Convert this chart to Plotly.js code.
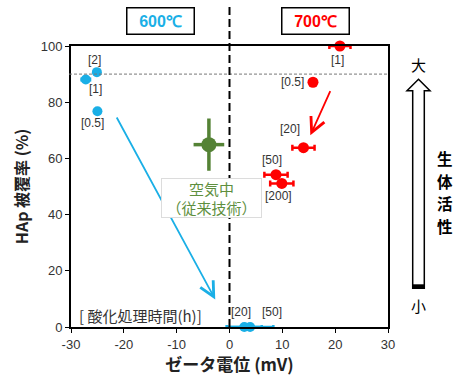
<!DOCTYPE html>
<html><head><meta charset="utf-8">
<script src="https://cdn.plot.ly/plotly-3.0.1.min.js"></script>
<style>html,body{margin:0;padding:0;background:#fff}#c{width:456px;height:376px}</style>
</head><body><div id="c"></div>
<script>
// ---- data ----
const xTickVals = [-30,-20,-10,0,10,20,30];
const xTickText = ['-30','-20','-10','0','10','20','30'];
const yTickVals = [0,20,40,60,80,100];
const yTickText = ['0','20','40','60','80','100'];

const t600Labels = ['[2]','[1]','[0.5]','[20]','[50]'];
const t600X = [-25.1,-27.2,-25.0,2.8,3.9];
const t600Y = [90.7,88.1,76.8,0,0];
const t600Xerr = [0.4,0.8,0,3.3,4.4];

const t700Labels = ['[1]','[0.5]','[20]','[50]','[200]'];
const t700X = [20.9,15.8,14.0,8.8,9.9];
const t700Y = [100,87.1,63.8,54.2,51.1];
const t700Xerr = [2.0,0,2.1,2.2,2.2];

const airX = [-3.9];
const airY = [64.9];
const airXerr = [2.9];
const airYerr = [9.3];

const refLineY = 90;       // 灰色破線
const arrow600 = {from:[-21.5,75.1], to:[-2.7,9.8]};
const arrow700 = {from:[19.2,84.5], to:[15.3,68.2]};
const bioChars = ['生','体','活','性'];

// ---- styles ----
const BLUE = '#1aafe6', RED = '#ff0000', GREEN = '#548235', GTEXT = '#5e8f3e';
const NUM = 'Liberation Sans, Arial, sans-serif';
const JP = 'Noto Sans CJK JP, Liberation Sans, sans-serif';
// label pixel offsets (x right, y up)
const shift600 = [[-2,12],[10,-10],[-5,-12],[-3,15],[22,15]];
const shift700 = [[-2,-14],[-20,0],[-13,19],[-4,15],[-3,-13]];

const L = 71, R = 68, T = 46, B = 49, W = 456, H = 376;
const pw = W - L - R, ph = H - T - B;
const px = v => (v - L) / pw;           // pixel -> paper x
const py = v => (H - B - v) / ph;       // pixel -> paper y

const traces = [
  {x:t600X, y:t600Y, type:'scatter', mode:'markers', cliponaxis:false,
   marker:{color:BLUE, size:10},
   error_x:{type:'data', array:t600Xerr, visible:true, color:BLUE, thickness:2.5, width:2}},
  {x:t700X, y:t700Y, type:'scatter', mode:'markers', cliponaxis:false,
   marker:{color:RED, size:11},
   error_x:{type:'data', array:t700Xerr, visible:true, color:RED, thickness:2.5, width:3}},
  {x:airX, y:airY, type:'scatter', mode:'markers', cliponaxis:false,
   marker:{color:GREEN, size:15},
   error_x:{type:'data', array:airXerr, visible:true, color:GREEN, thickness:3.5, width:0},
   error_y:{type:'data', array:airYerr, visible:true, color:GREEN, thickness:3.5, width:0}}
];

const ann = [];
t600Labels.forEach((t,i)=>ann.push({x:t600X[i], y:t600Y[i], text:t, showarrow:false,
  xshift:shift600[i][0], yshift:shift600[i][1], font:{family:NUM, size:12, color:'#333'}}));
t700Labels.forEach((t,i)=>ann.push({x:t700X[i], y:t700Y[i], text:t, showarrow:false,
  xshift:shift700[i][0], yshift:shift700[i][1], font:{family:NUM, size:12, color:'#333'}}));

ann.push({x:arrow600.to[0], y:arrow600.to[1], ax:arrow600.from[0], ay:arrow600.from[1],
  axref:'x', ayref:'y', text:'', showarrow:true, arrowcolor:BLUE, arrowwidth:1.8, arrowhead:5, arrowsize:1.6});
ann.push({x:arrow700.to[0], y:arrow700.to[1], ax:arrow700.from[0], ay:arrow700.from[1],
  axref:'x', ayref:'y', text:'', showarrow:true, arrowcolor:RED, arrowwidth:1.8, arrowhead:5, arrowsize:1.6});

ann.push({x:-3.46, y:45.85, text:'空気中<br>（従来技術）', showarrow:false,
  width:99, height:38, bgcolor:'#fff', bordercolor:'#dcdcdc', borderwidth:1, borderpad:0,
  font:{family:JP, size:15, color:GTEXT}});
ann.push({x:-28.9, y:4.2, xanchor:'left', text:'[ 酸化処理時間(h)]', showarrow:false,
  font:{family:JP, size:15, color:'#333'}});

const P = {xref:'paper', yref:'paper', showarrow:false, xanchor:'center', yanchor:'middle'};
ann.push(Object.assign({}, P, {x:px(160.4), y:py(21.2), text:'<b>600℃</b>',
  width:66, height:25, bordercolor:'#000', borderwidth:1.5, borderpad:0, bgcolor:'#fff',
  font:{family:NUM, size:16, color:BLUE}}));
ann.push(Object.assign({}, P, {x:px(315.4), y:py(21.2), text:'<b>700℃</b>',
  width:66, height:25, bordercolor:'#000', borderwidth:1.5, borderpad:0, bgcolor:'#fff',
  font:{family:NUM, size:16, color:RED}}));

ann.push(Object.assign({}, P, {x:px(418.5), y:py(64), text:'大', font:{family:JP, size:15, color:'#000'}}));
ann.push(Object.assign({}, P, {x:px(418.5), y:py(305), text:'小', font:{family:JP, size:15, color:'#000'}}));
bioChars.forEach((c,i)=>ann.push(Object.assign({}, P, {x:px(445), y:py(158 + 22.6*i),
  text:'<b>'+c+'</b>', font:{family:JP, size:15.5, color:'#000'}})));

const arrowPts = [[418.5,79.3],[430,90.7],[424.3,90.7],[424.3,288.3],[412.7,288.3],[412.7,90.7],[407,90.7]];
const arrowPath = 'M' + arrowPts.map(p=>px(p[0])+','+py(p[1])).join('L') + 'Z';

const shapes = [
  {type:'line', xref:'paper', yref:'y', x0:px(69), x1:1, y0:refLineY, y1:refLineY,
   line:{color:'#777', width:1, dash:'3px,2px'}},
  {type:'line', xref:'x', yref:'paper', x0:0, x1:0, y0:0, y1:py(3),
   line:{color:'#000', width:2, dash:'8px,4px'}},
  {type:'path', xref:'paper', yref:'paper', path:arrowPath, line:{color:'#000', width:1.5}, fillcolor:'#fff'},
  {type:'rect', xref:'paper', yref:'paper', x0:px(412.7), x1:px(424.3), y0:py(288.3), y1:py(284.3),
   line:{width:0}, fillcolor:'#000'}
];

const layout = {
  width:W, height:H, margin:{l:L, r:R, t:T, b:B},
  paper_bgcolor:'#fff', plot_bgcolor:'#fff', showlegend:false,
  font:{family:NUM, size:13, color:'#333'},
  xaxis:{range:[-30,30], tickvals:xTickVals, ticktext:xTickText, showgrid:false, zeroline:false,
    showline:true, linecolor:'#000', linewidth:2, mirror:true, ticks:'outside', ticklen:4, tickcolor:'#000',
    tickfont:{family:NUM, size:13, color:'#333'},
    title:{text:'<b>ゼータ電位 (mV)</b>', font:{family:JP, size:17, color:'#222'}, standoff:5}},
  yaxis:{range:[0,100], tickvals:yTickVals, ticktext:yTickText, showgrid:false, zeroline:false,
    showline:true, linecolor:'#000', linewidth:2, mirror:true, ticks:'outside', ticklen:4, tickcolor:'#000',
    tickfont:{family:NUM, size:13, color:'#333'},
    title:{text:'<b>HAp 被覆率 (%)</b>', font:{family:JP, size:16, color:'#222'}, standoff:8}},
  annotations:ann, shapes:shapes
};
Plotly.newPlot('c', traces, layout, {displayModeBar:false, staticPlot:true});
</script></body></html>
